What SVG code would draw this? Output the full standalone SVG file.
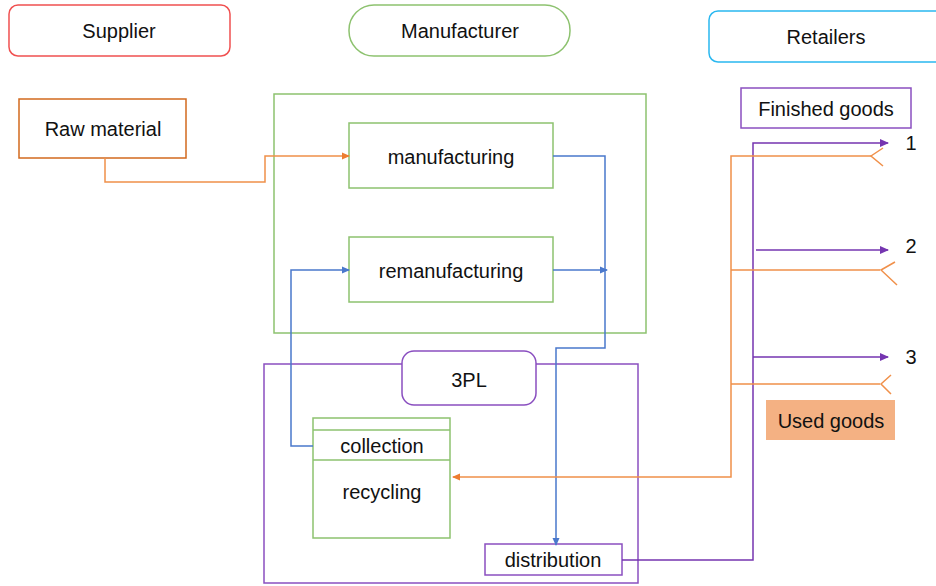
<svg xmlns="http://www.w3.org/2000/svg" width="936" height="586" viewBox="0 0 936 586">
<style>
text{font-family:"Liberation Sans",Arial,sans-serif;font-size:20px;fill:#111;text-anchor:middle;dominant-baseline:central}
.g{fill:none;stroke:#8dc26f;stroke-width:1.5}
.p{fill:none;stroke:#8a4fc0;stroke-width:1.5}
.c{fill:none;stroke-width:1.5}
.bl{stroke:#4a78cc}
.or{stroke:#f0904a}
.pu{stroke:#7535b0}
</style>
<defs>
<marker id="ab" markerWidth="8" markerHeight="8" refX="7" refY="4" orient="auto" markerUnits="userSpaceOnUse"><path d="M0,0.5 L8,4 L0,7.5Z" fill="#4a78cc"/></marker>
<marker id="ao" markerWidth="8" markerHeight="8" refX="7" refY="4" orient="auto" markerUnits="userSpaceOnUse"><path d="M0,0.5 L8,4 L0,7.5Z" fill="#ed7d31"/></marker>
<marker id="ap" markerWidth="9" markerHeight="9" refX="8" refY="4.5" orient="auto" markerUnits="userSpaceOnUse"><path d="M0,0.5 L9,4.5 L0,8.5Z" fill="#7535b0"/></marker>
</defs>
<g id="supplier"><rect x="9" y="5" width="221" height="51" rx="9" fill="#fff" stroke="#f05050" stroke-width="1.5"/><text x="119" y="31">Supplier</text></g>
<g id="manufacturer"><rect x="349" y="5" width="221" height="51" rx="25" fill="#fff" stroke="#8dc26f" stroke-width="1.5"/><text x="460" y="31">Manufacturer</text></g>
<g id="retailers"><rect x="709" y="11" width="240" height="51" rx="9" fill="#fff" stroke="#2ab8f0" stroke-width="1.5"/><text x="826" y="37">Retailers</text></g>
<g id="raw-material"><rect x="19" y="99" width="167" height="59" fill="#fff" stroke="#d2691e" stroke-width="1.5"/><text x="103" y="129">Raw material</text></g>
<g id="manufacturer-area"><rect x="274" y="94" width="372" height="239" class="g"/></g>
<g id="manufacturing"><rect x="349" y="123" width="204" height="65" class="g"/><text x="451" y="157">manufacturing</text></g>
<g id="remanufacturing"><rect x="349" y="237" width="204" height="65" class="g"/><text x="451" y="271">remanufacturing</text></g>
<g id="tpl-area"><rect x="264" y="364" width="374" height="219" class="p"/></g>
<g id="tpl"><rect x="402" y="351" width="134" height="54" rx="12" fill="#fff" stroke="#8a4fc0" stroke-width="1.5"/><text x="469" y="380">3PL</text></g>
<g id="collection-recycling"><rect x="313" y="418" width="137" height="120" class="g"/><line x1="313" y1="430" x2="450" y2="430" class="g"/><line x1="313" y1="460" x2="450" y2="460" class="g"/><text x="382" y="446">collection</text><text x="382" y="492">recycling</text></g>
<g id="distribution"><rect x="485" y="544" width="137" height="31" class="p"/><text x="553" y="560">distribution</text></g>
<g id="finished-goods"><rect x="741" y="88" width="170" height="40" class="p"/><text x="826" y="109">Finished goods</text></g>
<g id="used-goods"><rect x="766" y="400" width="129" height="40" fill="#f4b183"/><text x="831" y="421">Used goods</text></g>
<g id="labels"><text x="911" y="143">1</text><text x="911" y="246">2</text><text x="911" y="357">3</text></g>
<g id="connectors">
<path d="M105,158 V182 H265 V156 H349" class="c" stroke="#f0904a" marker-end="url(#ao)"/>
<path d="M553,156 H605 V348 H556 V545" class="c bl" marker-end="url(#ab)"/>
<path d="M553,270 H607" class="c bl" marker-end="url(#ab)"/>
<path d="M313,446 H291 V270 H349" class="c bl" marker-end="url(#ab)"/>
<path d="M622,560 H753 V143 H888" class="c pu" marker-end="url(#ap)"/>
<path d="M756,250 H888" class="c pu" marker-end="url(#ap)"/>
<path d="M753,357 H888" class="c pu" marker-end="url(#ap)"/>
<path d="M872,156 H731 V477 H453" class="c or" marker-end="url(#ao)"/>
<path d="M880,270 H731 M880,384 H731" class="c or"/>
<path d="M883,148 L871,156 L883,166" class="c or"/>
<path d="M895,262 L881,270 L897,285" class="c or"/>
<path d="M891,375 L881,384 L891,394" class="c or"/>
</g>
</svg>
